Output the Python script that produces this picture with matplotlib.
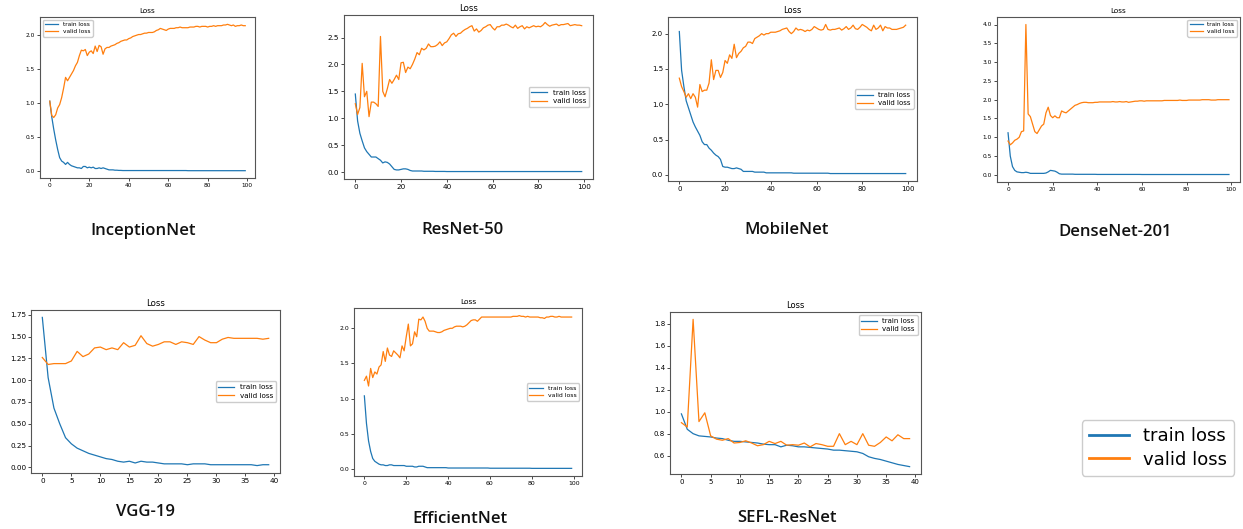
import matplotlib
matplotlib.use("Agg")
import matplotlib.pyplot as plt
from matplotlib.lines import Line2D

W, H = 1243, 529
BLUE = "#1f77b4"
ORANGE = "#ff7f0e"

# ---- data ----
inception_train = [1.03, 0.80, 0.62, 0.46, 0.32, 0.20, 0.15, 0.13, 0.10, 0.13,
                   0.10, 0.08, 0.07, 0.06, 0.05, 0.05, 0.04, 0.07, 0.07, 0.05,
                   0.06, 0.05, 0.06, 0.04, 0.04, 0.05, 0.04, 0.05, 0.04, 0.03,
                   0.02, 0.02, 0.02, 0.015, 0.015, 0.012, 0.012, 0.01, 0.01, 0.01,
                   0.01, 0.01, 0.01, 0.01, 0.01, 0.01, 0.01, 0.01, 0.01, 0.01,
                   0.01, 0.01, 0.01, 0.01, 0.01, 0.01, 0.01, 0.01, 0.01, 0.01,
                   0.01, 0.01, 0.01, 0.01, 0.01, 0.01, 0.01, 0.01, 0.01, 0.01,
                   0.008, 0.008, 0.008, 0.008, 0.008, 0.008, 0.008, 0.008, 0.008, 0.008,
                   0.008, 0.008, 0.008, 0.008, 0.008, 0.008, 0.008, 0.008, 0.008, 0.008,
                   0.008, 0.008, 0.008, 0.008, 0.008, 0.008, 0.008, 0.008, 0.008, 0.008]
inception_valid = [1.03, 0.82, 0.79, 0.83, 0.93, 0.98, 1.08, 1.22, 1.38, 1.33,
                   1.38, 1.43, 1.48, 1.55, 1.60, 1.70, 1.78, 1.77, 1.79, 1.70,
                   1.75, 1.77, 1.73, 1.84, 1.76, 1.85, 1.83, 1.72, 1.80, 1.82,
                   1.82, 1.84, 1.85, 1.86, 1.88, 1.89, 1.91, 1.92, 1.93, 1.93,
                   1.95, 1.96, 1.98, 1.99, 2.00, 2.01, 2.01, 2.02, 2.03, 2.03,
                   2.04, 2.04, 2.04, 2.05, 2.07, 2.08, 2.10, 2.09, 2.08, 2.07,
                   2.09, 2.10, 2.10, 2.10, 2.11, 2.11, 2.12, 2.11, 2.11, 2.11,
                   2.11, 2.12, 2.12, 2.12, 2.13, 2.13, 2.12, 2.13, 2.13, 2.13,
                   2.12, 2.13, 2.13, 2.14, 2.13, 2.14, 2.14, 2.14, 2.15, 2.15,
                   2.16, 2.15, 2.14, 2.15, 2.13, 2.14, 2.14, 2.15, 2.14, 2.14]

resnet_train = [1.45, 0.95, 0.72, 0.58, 0.45, 0.38, 0.33, 0.28, 0.28, 0.28,
                0.25, 0.22, 0.17, 0.19, 0.18, 0.15, 0.10, 0.05, 0.04, 0.04,
                0.05, 0.06, 0.06, 0.05, 0.03, 0.02, 0.02, 0.02, 0.02, 0.02,
                0.015, 0.015, 0.015, 0.015, 0.015, 0.012, 0.012, 0.012, 0.012, 0.012,
                0.01, 0.01, 0.01, 0.01, 0.01, 0.01, 0.01, 0.01, 0.01, 0.01,
                0.01, 0.01, 0.01, 0.01, 0.01, 0.01, 0.01, 0.01, 0.01, 0.01,
                0.01, 0.01, 0.01, 0.01, 0.01, 0.01, 0.01, 0.01, 0.01, 0.01,
                0.01, 0.01, 0.01, 0.01, 0.01, 0.01, 0.01, 0.01, 0.01, 0.01,
                0.01, 0.01, 0.01, 0.01, 0.01, 0.01, 0.01, 0.01, 0.01, 0.01,
                0.01, 0.01, 0.01, 0.01, 0.01, 0.01, 0.01, 0.01, 0.01, 0.01]
resnet_valid = [1.27, 1.07, 1.20, 2.02, 1.40, 1.50, 1.03, 1.30, 1.30, 1.27,
                1.22, 2.52, 1.50, 1.40, 1.55, 1.72, 1.65, 1.72, 1.80, 1.72,
                2.03, 2.04, 1.85, 1.95, 1.92, 2.00, 2.10, 2.22, 2.18, 2.30,
                2.27, 2.30, 2.38, 2.33, 2.33, 2.34, 2.37, 2.42, 2.35, 2.40,
                2.42, 2.48, 2.55, 2.58, 2.52, 2.57, 2.58, 2.62, 2.65, 2.67,
                2.70, 2.72, 2.62, 2.66, 2.60, 2.63, 2.68, 2.70, 2.73, 2.74,
                2.68, 2.64, 2.70, 2.70, 2.73, 2.73, 2.75, 2.73, 2.70, 2.68,
                2.73, 2.67, 2.70, 2.72, 2.66, 2.70, 2.68, 2.70, 2.72, 2.70,
                2.71, 2.70, 2.73, 2.78, 2.74, 2.71, 2.73, 2.74, 2.75, 2.72,
                2.74, 2.74, 2.75, 2.76, 2.72, 2.73, 2.74, 2.73, 2.73, 2.72]

mobile_train = [2.03, 1.48, 1.25, 1.05, 0.95, 0.85, 0.75, 0.68, 0.62, 0.56,
                0.47, 0.43, 0.43, 0.38, 0.35, 0.31, 0.28, 0.26, 0.22, 0.12,
                0.11, 0.11, 0.10, 0.09, 0.09, 0.10, 0.09, 0.08, 0.05, 0.05,
                0.05, 0.05, 0.05, 0.04, 0.04, 0.04, 0.04, 0.04, 0.03, 0.03,
                0.03, 0.03, 0.03, 0.03, 0.03, 0.03, 0.03, 0.03, 0.03, 0.03,
                0.025, 0.025, 0.025, 0.025, 0.025, 0.025, 0.025, 0.025, 0.025, 0.025,
                0.025, 0.025, 0.025, 0.025, 0.025, 0.025, 0.02, 0.02, 0.02, 0.02,
                0.02, 0.02, 0.02, 0.02, 0.02, 0.02, 0.02, 0.02, 0.02, 0.02,
                0.02, 0.02, 0.02, 0.02, 0.02, 0.02, 0.02, 0.02, 0.02, 0.02,
                0.02, 0.02, 0.02, 0.02, 0.02, 0.02, 0.02, 0.02, 0.02, 0.02]
mobile_valid = [1.37, 1.25, 1.18, 1.10, 1.15, 1.08, 1.15, 1.10, 0.96, 1.28,
                1.18, 1.20, 1.20, 1.30, 1.63, 1.35, 1.48, 1.48, 1.38, 1.45,
                1.62, 1.58, 1.70, 1.65, 1.85, 1.66, 1.72, 1.75, 1.80, 1.82,
                1.88, 1.88, 1.86, 1.93, 1.95, 1.97, 2.00, 1.98, 2.00, 2.00,
                2.02, 2.02, 2.02, 2.03, 2.04, 2.06, 2.07, 2.08, 2.03, 2.00,
                2.03, 2.08, 2.05, 2.06, 2.05, 2.03, 2.05, 2.04, 2.06, 2.10,
                2.08, 2.06, 2.05, 2.06, 2.13, 2.06, 2.05, 2.06, 2.06, 2.07,
                2.08, 2.05, 2.07, 2.10, 2.06, 2.08, 2.12, 2.07, 2.06, 2.09,
                2.13, 2.11, 2.09, 2.06, 2.04, 2.12, 2.06, 2.08, 2.12, 2.04,
                2.10, 2.08, 2.08, 2.06, 2.06, 2.06, 2.07, 2.08, 2.09, 2.12]

dense_train = [1.12, 0.50, 0.22, 0.12, 0.08, 0.07, 0.06, 0.06, 0.07, 0.06,
               0.04, 0.04, 0.04, 0.04, 0.04, 0.04, 0.04, 0.05, 0.08, 0.12,
               0.11, 0.10, 0.07, 0.03, 0.02, 0.02, 0.02, 0.02, 0.02, 0.02,
               0.015, 0.015, 0.015, 0.015, 0.015, 0.015, 0.015, 0.015, 0.015, 0.015,
               0.012, 0.012, 0.012, 0.012, 0.012, 0.012, 0.012, 0.012, 0.012, 0.012,
               0.012, 0.012, 0.012, 0.012, 0.012, 0.012, 0.012, 0.012, 0.012, 0.012,
               0.01, 0.01, 0.01, 0.01, 0.01, 0.01, 0.01, 0.01, 0.01, 0.01,
               0.01, 0.01, 0.01, 0.01, 0.01, 0.01, 0.01, 0.01, 0.01, 0.01,
               0.01, 0.01, 0.01, 0.01, 0.01, 0.01, 0.01, 0.01, 0.01, 0.01,
               0.01, 0.01, 0.01, 0.01, 0.01, 0.01, 0.01, 0.01, 0.01, 0.01]
dense_valid = [0.90, 0.80, 0.85, 0.92, 0.95, 1.00, 1.15, 1.17, 4.00, 1.62,
               1.55, 1.35, 1.15, 1.10, 1.20, 1.30, 1.35, 1.65, 1.80, 1.58,
               1.52, 1.57, 1.52, 1.52, 1.70, 1.67, 1.65, 1.70, 1.75, 1.80,
               1.85, 1.87, 1.90, 1.92, 1.93, 1.93, 1.92, 1.92, 1.92, 1.93,
               1.93, 1.94, 1.94, 1.94, 1.94, 1.94, 1.94, 1.95, 1.94, 1.94,
               1.95, 1.94, 1.94, 1.95, 1.93, 1.94, 1.95, 1.96, 1.96, 1.97,
               1.97, 1.96, 1.97, 1.97, 1.97, 1.97, 1.97, 1.97, 1.97, 1.97,
               1.98, 1.98, 1.98, 1.98, 1.98, 1.98, 1.98, 1.99, 1.98, 1.98,
               1.98, 1.99, 1.99, 1.99, 1.99, 1.99, 1.99, 2.00, 2.00, 2.00,
               2.00, 1.99, 1.99, 1.99, 2.00, 2.00, 2.00, 2.00, 2.00, 2.00]

vgg_train = [1.72, 1.03, 0.68, 0.50, 0.34, 0.27, 0.22, 0.19, 0.16, 0.14,
             0.12, 0.10, 0.09, 0.07, 0.06, 0.07, 0.05, 0.07, 0.06, 0.06,
             0.05, 0.04, 0.04, 0.04, 0.04, 0.03, 0.04, 0.04, 0.04, 0.03,
             0.03, 0.03, 0.03, 0.03, 0.03, 0.03, 0.03, 0.02, 0.03, 0.03]
vgg_valid = [1.26, 1.18, 1.19, 1.19, 1.19, 1.22, 1.33, 1.27, 1.30, 1.37,
             1.38, 1.35, 1.37, 1.35, 1.43, 1.38, 1.40, 1.51, 1.42, 1.39,
             1.41, 1.44, 1.44, 1.41, 1.44, 1.43, 1.41, 1.50, 1.46, 1.43,
             1.43, 1.47, 1.49, 1.48, 1.48, 1.48, 1.48, 1.48, 1.47, 1.48]

efficient_train = [1.04, 0.65, 0.40, 0.25, 0.15, 0.11, 0.09, 0.07, 0.06, 0.06,
                   0.05, 0.05, 0.06, 0.06, 0.05, 0.05, 0.05, 0.05, 0.05, 0.05,
                   0.04, 0.04, 0.04, 0.04, 0.03, 0.03, 0.04, 0.04, 0.04, 0.03,
                   0.02, 0.02, 0.02, 0.02, 0.02, 0.02, 0.02, 0.02, 0.02, 0.02,
                   0.015, 0.015, 0.015, 0.015, 0.015, 0.015, 0.015, 0.015, 0.015, 0.015,
                   0.015, 0.015, 0.015, 0.015, 0.015, 0.015, 0.015, 0.015, 0.015, 0.015,
                   0.012, 0.012, 0.012, 0.012, 0.012, 0.012, 0.012, 0.012, 0.012, 0.012,
                   0.012, 0.012, 0.012, 0.012, 0.012, 0.012, 0.012, 0.012, 0.012, 0.012,
                   0.01, 0.01, 0.01, 0.01, 0.01, 0.01, 0.01, 0.01, 0.01, 0.01,
                   0.01, 0.01, 0.01, 0.01, 0.01, 0.01, 0.01, 0.01, 0.01, 0.01]
efficient_valid = [1.26, 1.32, 1.18, 1.43, 1.30, 1.38, 1.35, 1.45, 1.48, 1.67,
                   1.53, 1.72, 1.62, 1.60, 1.68, 1.65, 1.62, 1.58, 1.75, 1.68,
                   1.88, 2.06, 1.75, 1.78, 1.95, 1.88, 2.13, 2.12, 2.16, 2.10,
                   2.00, 1.96, 1.96, 1.96, 1.95, 1.94, 1.94, 1.95, 1.97, 1.98,
                   1.99, 2.00, 2.00, 2.02, 2.03, 2.03, 2.03, 2.02, 2.03, 2.05,
                   2.08, 2.11, 2.12, 2.12, 2.10, 2.13, 2.16, 2.16, 2.16, 2.16,
                   2.16, 2.16, 2.16, 2.16, 2.16, 2.16, 2.16, 2.16, 2.16, 2.16,
                   2.16, 2.17, 2.17, 2.17, 2.18, 2.17, 2.17, 2.16, 2.17, 2.16,
                   2.16, 2.16, 2.16, 2.16, 2.15, 2.15, 2.14, 2.16, 2.16, 2.17,
                   2.17, 2.16, 2.16, 2.17, 2.16, 2.16, 2.16, 2.16, 2.16, 2.16]

sefl_train = [0.98, 0.84, 0.80, 0.78, 0.775, 0.77, 0.76, 0.755, 0.74, 0.73,
              0.73, 0.725, 0.72, 0.715, 0.705, 0.70, 0.70, 0.68, 0.695, 0.69,
              0.68, 0.68, 0.675, 0.67, 0.665, 0.66, 0.65, 0.65, 0.645, 0.64,
              0.635, 0.62, 0.59, 0.575, 0.565, 0.55, 0.535, 0.52, 0.51, 0.50]
sefl_valid = [0.90, 0.86, 1.84, 0.91, 0.99, 0.78, 0.75, 0.74, 0.755, 0.715,
              0.72, 0.735, 0.715, 0.69, 0.70, 0.73, 0.71, 0.73, 0.695, 0.70,
              0.695, 0.715, 0.68, 0.71, 0.70, 0.685, 0.685, 0.80, 0.70, 0.73,
              0.70, 0.80, 0.695, 0.685, 0.72, 0.77, 0.735, 0.79, 0.755, 0.755]

model_names = ["InceptionNet", "ResNet-50", "MobileNet", "DenseNet-201",
               "VGG-19", "EfficientNet", "SEFL-ResNet"]
train_curves = [inception_train, resnet_train, mobile_train, dense_train,
                vgg_train, efficient_train, sefl_train]
valid_curves = [inception_valid, resnet_valid, mobile_valid, dense_valid,
                vgg_valid, efficient_valid, sefl_valid]

# ---- layout, in pixels of the reference: (left, right, top, bottom) ----
AX_BOXES = [(40, 255, 17, 178), (344, 593, 15, 179), (668, 917, 17, 181),
            (997, 1240, 17, 182), (31, 280, 310, 473), (354, 582, 308, 476),
            (670, 921, 312, 474)]
NAME_POS = [(143, 231), (462, 230), (787, 230), (1115, 232),
            (145, 512), (460, 519), (787, 518)]
LEGEND_LOC = ["upper left", "center right", "center right", "upper right",
              "center right", "center right", "upper right"]
TICK_SIZE = [4.2, 5.2, 5.0, 4.2, 5.2, 4.4, 5.0]

fig = plt.figure(figsize=(W / 100, H / 100), dpi=100)
fig.patch.set_facecolor("white")

for i, name in enumerate(model_names):
    l, r, t, b = AX_BOXES[i]
    ax = fig.add_axes([l / W, 1 - b / H, (r - l) / W, (b - t) / H])
    ts = TICK_SIZE[i]
    ax.plot(range(len(train_curves[i])), train_curves[i], color=BLUE, lw=0.9, label="train loss")
    ax.plot(range(len(valid_curves[i])), valid_curves[i], color=ORANGE, lw=0.9, label="valid loss")
    ax.set_title("Loss", fontsize=ts + 1, pad=3)
    ax.tick_params(labelsize=ts, length=2, width=0.5, pad=1.5)
    for s in ax.spines.values():
        s.set_color("#555555")
        s.set_linewidth(0.8)
    ax.legend(loc=LEGEND_LOC[i], fontsize=ts, handlelength=2.2, borderpad=0.4,
              labelspacing=0.3, framealpha=1)
    x, y = NAME_POS[i]
    fig.text(x / W, 1 - y / H, name, ha="center", va="center",
             fontsize=12, fontweight="semibold", family="Open Sans", color="#111111")

# big shared legend at the bottom right
handles = [Line2D([], [], color=BLUE, lw=2), Line2D([], [], color=ORANGE, lw=2)]
fig.legend(handles, ["train loss", "valid loss"], loc="center",
           bbox_to_anchor=(1158 / W, 1 - 448 / H), fontsize=13,
           handlelength=2.2, labelspacing=0.3, borderpad=0.4, framealpha=1)

fig.savefig("out.png", dpi=100, facecolor="white")
